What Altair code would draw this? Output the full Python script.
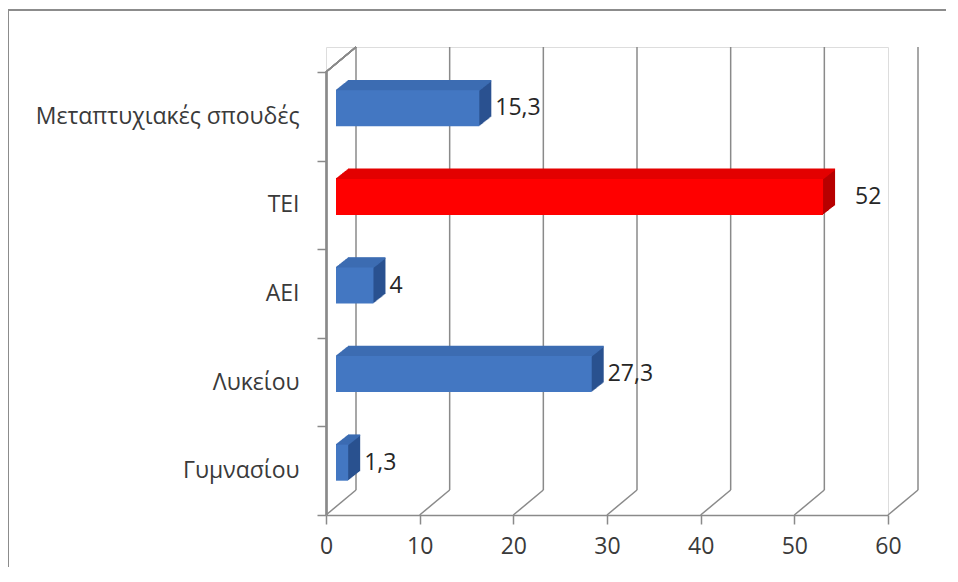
import altair as alt
import pandas as pd

categories = ["Μεταπτυχιακές σπουδές", "ΤΕΙ", "ΑΕΙ", "Λυκείου", "Γυμνασίου"]
values = [15.3, 52, 4, 27.3, 1.3]
highlight = "ΤΕΙ"
x_ticks = [0, 10, 20, 30, 40, 50, 60]

df = pd.DataFrame({"cat": categories, "v": values})
ticks_df = pd.DataFrame({"t": x_ticks})

W, H = 562, 468
BAND_TOP = 25
DX, DY = 30, 25
BX, BY = 10, 8
EX, EY = 12, 9.5
BAR_H = 36
FONT = "Open Sans"
FS = 23
GRID = "#8a8a8a"

xscale = alt.Scale(domain=[0, 60], nice=False, zero=True)
yscale = alt.Scale(domain=categories, range=[BAND_TOP, H], paddingInner=0, paddingOuter=0)

xaxis = alt.Axis(values=x_ticks, grid=False, domainColor=GRID, domainWidth=1.5,
                 tickColor=GRID, tickWidth=1.5, tickSize=9, labelPadding=11,
                 labelFlush=False, labelOverlap=False,
                 labelFont=FONT, labelFontSize=FS, labelColor="#3a3a3a", title=None)
yaxis = alt.Axis(tickBand="extent", grid=False, domain=False,
                 tickColor=GRID, tickWidth=1.5, tickSize=9, labelPadding=18,
                 labelFont=FONT, labelFontSize=FS, labelColor="#3a3a3a",
                 title=None, labelLimit=400)


def X(field="v:Q"):
    return alt.X(field, scale=xscale, axis=xaxis)


def Y():
    return alt.Y("cat:N", scale=yscale, sort=categories, axis=yaxis, bandPosition=0.5)


is_hi = alt.datum.cat == highlight
front_col = alt.when(is_hi).then(alt.value("#ff0000")).otherwise(alt.value("#4377c2"))
top_col = alt.when(is_hi).then(alt.value("#e30000")).otherwise(alt.value("#3c6cb2"))
side_col = alt.when(is_hi).then(alt.value("#b80000")).otherwise(alt.value("#2a5290"))

layers = []

# outer frame of the chart box (only its left and top edges fall inside the picture)
frame = alt.Chart(ticks_df).mark_rect(fill="transparent", stroke="#8c8c8c", strokeWidth=2).encode(
    x=alt.value(-318), x2=alt.value(W + 150), y=alt.value(-37), y2=alt.value(H + 150))
layers.append(frame)

# back wall vertical grid lines
grid = alt.Chart(ticks_df).mark_rule(color=GRID, strokeWidth=1.5, xOffset=DX).encode(
    x=X("t:Q"), y=alt.value(0), y2=alt.value(H - DY))
# floor diagonals
floor = alt.Chart(ticks_df).mark_rule(color=GRID, strokeWidth=1.5, x2Offset=DX).encode(
    x=X("t:Q"), x2="t:Q", y=alt.value(H), y2=alt.value(H - DY))
# left wall: top diagonal and front edge (y axis line)
wall_top = alt.Chart(ticks_df).mark_rule(color=GRID, strokeWidth=1.5, x2Offset=DX).encode(
    x=alt.datum(0, scale=xscale, axis=xaxis), x2=alt.datum(0),
    y=alt.value(BAND_TOP), y2=alt.value(0))
wall_front = alt.Chart(ticks_df).mark_rule(color=GRID, strokeWidth=1.5, xOffset=0.5, x2Offset=0.5).encode(
    x=alt.datum(0, scale=xscale, axis=xaxis), x2=alt.datum(0),
    y=alt.value(BAND_TOP), y2=alt.value(H))
layers += [grid, floor, wall_top, wall_front]

base = alt.Chart(df)

N = 12
for k in range(N, 0, -1):
    ox = BX + EX * k / N
    oy = -BY - EY * k / N
    layers.append(base.mark_bar(size=BAR_H, xOffset=ox, x2Offset=ox, yOffset=oy).encode(
        x=X(), y=Y(), color=side_col))
M = 16
for k in range(M, -1, -1):
    ox = BX + EX * k / M
    oy = -BY - BAR_H / 2 - EY * k / M
    layers.append(base.mark_rule(strokeWidth=1.6, xOffset=ox, x2Offset=ox, yOffset=oy).encode(
        x=X(), x2=alt.datum(0), y=Y(), color=top_col))

front = base.mark_bar(size=BAR_H, xOffset=BX, x2Offset=BX, yOffset=-BY).encode(
    x=X(), y=Y(), color=front_col)
layers.append(front)

lbl = base.transform_calculate(label="replace(toString(datum.v), '.', ',')")
txt = lbl.transform_filter(alt.datum.cat != highlight).mark_text(
    align="left", baseline="middle", xOffset=BX + EX + 4, yOffset=-BY,
    font=FONT, fontSize=FS, color="#262626").encode(
    x=X(), y=Y(), text="label:N")
txt_hi = lbl.transform_filter(is_hi).mark_text(
    align="left", baseline="middle", xOffset=BX + EX + 20, yOffset=-BY,
    font=FONT, fontSize=FS, color="#262626").encode(
    x=X(), y=Y(), text="label:N")
layers += [txt, txt_hi]

chart = alt.layer(*layers).properties(
    width=W, height=H,
    autosize=alt.AutoSizeParams(type="none"),
    padding={"left": 318, "top": 39, "right": 58, "bottom": 52},
).configure_view(stroke="transparent", strokeWidth=0).configure(background="white")

chart.save("out.html", embed_options={"renderer": "svg", "actions": False})
